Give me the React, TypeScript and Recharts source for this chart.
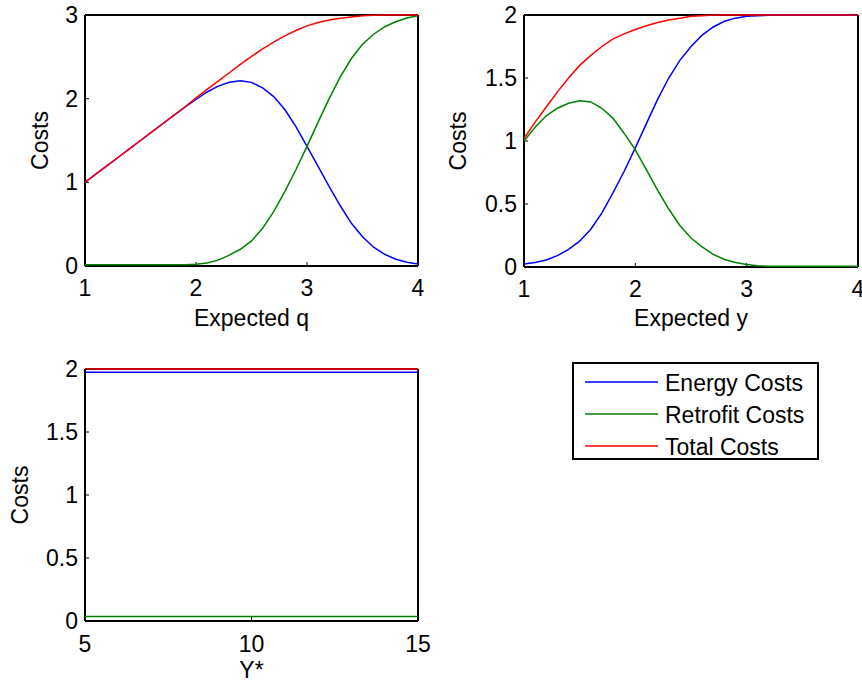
import React from 'react';
import { LineChart, Line, XAxis, YAxis, Legend, Label } from 'recharts';

// ---------- Panel 1: Expected q ----------
const qValues = [1.0, 1.1, 1.2, 1.3, 1.4, 1.5, 1.6, 1.7, 1.8, 1.9, 2.0, 2.1, 2.2, 2.3, 2.4, 2.5, 2.6, 2.7, 2.8, 2.9, 3.0, 3.1, 3.2, 3.3, 3.4, 3.5, 3.6, 3.7, 3.8, 3.9, 4.0];
const energyQ = [1.0, 1.1, 1.2, 1.3, 1.4, 1.5, 1.6, 1.7, 1.8, 1.9, 1.99, 2.08, 2.15, 2.195, 2.215, 2.195, 2.13, 2.025, 1.87, 1.665, 1.43, 1.19, 0.95, 0.72, 0.51, 0.35, 0.225, 0.14, 0.08, 0.045, 0.025];
const retrofitQ = [0.015, 0.015, 0.015, 0.015, 0.015, 0.015, 0.015, 0.015, 0.015, 0.015, 0.02, 0.035, 0.07, 0.13, 0.2, 0.3, 0.45, 0.65, 0.89, 1.15, 1.43, 1.72, 2.0, 2.26, 2.48, 2.65, 2.77, 2.86, 2.92, 2.965, 2.99];
const totalQ = [1.0, 1.1, 1.2, 1.3, 1.4, 1.5, 1.6, 1.7, 1.8, 1.9, 2.01, 2.11, 2.21, 2.31, 2.41, 2.505, 2.595, 2.675, 2.75, 2.815, 2.87, 2.91, 2.94, 2.96, 2.977, 2.99, 2.997, 3.0, 3.0, 3.0, 3.0];

// ---------- Panel 2: Expected y ----------
const yValues = [1.0, 1.1, 1.2, 1.3, 1.4, 1.5, 1.6, 1.7, 1.8, 1.9, 2.0, 2.1, 2.2, 2.3, 2.4, 2.5, 2.6, 2.7, 2.8, 2.9, 3.0, 3.1, 3.2, 3.3, 3.4, 3.5, 3.6, 3.7, 3.8, 3.9, 4.0];
const energyY = [0.024, 0.035, 0.055, 0.09, 0.14, 0.205, 0.3, 0.43, 0.59, 0.76, 0.945, 1.14, 1.33, 1.5, 1.64, 1.75, 1.84, 1.905, 1.95, 1.975, 1.99, 1.995, 1.998, 1.998, 1.998, 1.998, 1.998, 1.998, 1.998, 1.998, 1.998];
const retrofitY = [1.0, 1.11, 1.2, 1.26, 1.3, 1.32, 1.31, 1.26, 1.18, 1.06, 0.93, 0.77, 0.61, 0.46, 0.33, 0.23, 0.16, 0.1, 0.06, 0.035, 0.02, 0.01, 0.006, 0.006, 0.006, 0.006, 0.006, 0.006, 0.006, 0.006, 0.006];
const totalY = [1.02, 1.15, 1.27, 1.39, 1.5, 1.6, 1.68, 1.75, 1.81, 1.85, 1.885, 1.915, 1.94, 1.96, 1.975, 1.99, 1.995, 2.0, 2.0, 2.0, 2.0, 2.0, 2.0, 2.0, 2.0, 2.0, 2.0, 2.0, 2.0, 2.0, 2.0];

// ---------- Panel 3: Y* ----------
const yStarValues = [5, 6, 7, 8, 9, 10, 11, 12, 13, 14, 15];
const energyStar = [1.975, 1.975, 1.975, 1.975, 1.975, 1.975, 1.975, 1.975, 1.975, 1.975, 1.975];
const retrofitStar = [0.035, 0.035, 0.035, 0.035, 0.035, 0.035, 0.035, 0.035, 0.035, 0.035, 0.035];
const totalStar = [2.0, 2.0, 2.0, 2.0, 2.0, 2.0, 2.0, 2.0, 2.0, 2.0, 2.0];

// ---------- ticks & labels ----------
const ticksX12 = [1, 2, 3, 4];
const ticksY1 = [0, 1, 2, 3];
const ticksY2 = [0, 0.5, 1, 1.5, 2];
const ticksX3 = [5, 10, 15];
const ticksY3 = [0, 0.5, 1, 1.5, 2];
const seriesNames = ['Energy Costs', 'Retrofit Costs', 'Total Costs'];
const seriesColors = ['#0000ff', '#008000', '#ff0000'];

const build = (xs: number[], a: number[], b: number[], c: number[]) =>
  xs.map((x, i) => ({ x, energy: a[i], retrofit: b[i], total: c[i] }));

const dataQ = build(qValues, energyQ, retrofitQ, totalQ);
const dataY = build(yValues, energyY, retrofitY, totalY);
const dataStar = build(yStarValues, energyStar, retrofitStar, totalStar);

const FONT = 'Arial, "Liberation Sans", sans-serif';
const FS = 23;
const axisLine = { stroke: '#000', strokeWidth: 2 };
const tickLine = { stroke: '#000', strokeWidth: 1 };
const tickStyle = { fill: '#000', fontSize: FS, fontFamily: FONT };

const series = () =>
  ['energy', 'retrofit', 'total'].map((k, i) => (
    <Line
      key={k}
      xAxisId="b"
      yAxisId="l"
      type="linear"
      dataKey={k}
      name={seriesNames[i]}
      stroke={seriesColors[i]}
      strokeWidth={1.5}
      dot={false}
      activeDot={false}
      isAnimationActive={false}
    />
  ));

const LEG_W = 247;
const LEG_H = 98;
const LEG_ROW = 32;
const renderLegend = (props: any) => {
  const items = (props && props.payload) || [];
  return (
    <svg width={LEG_W} height={LEG_H} style={{ display: 'block' }}>
      <rect x={1} y={1} width={LEG_W - 2} height={LEG_H - 2} fill="#fff" stroke="#000" strokeWidth={2} />
      {items.map((it: any, i: number) => (
        <g key={i}>
          <line x1={13} x2={86} y1={20 + LEG_ROW * i} y2={20 + LEG_ROW * i} stroke={it.color} strokeWidth={1.5} />
          <text x={93} y={28.5 + LEG_ROW * i} fontSize={FS} fill="#000" fontFamily={FONT}>
            {it.value}
          </text>
        </g>
      ))}
    </svg>
  );
};

type PanelProps = {
  data: any[];
  width: number;
  height: number;
  margin: { top: number; right: number; bottom: number; left: number };
  xDomain: [number, number];
  xTicks: number[];
  yDomain: [number, number];
  yTicks: number[];
  xHeight: number;
  yWidth: number;
  xTickMargin: number;
  xLabel: string;
  xLabelOffset: number;
  yLabelOffset: number;
  legend?: boolean;
};

// Axes of one panel; "show" draws the box, ticks and labels, otherwise the axes only reserve the same space.
const axes = (p: PanelProps, show: boolean) => [
  <XAxis
    key="xb"
    xAxisId="b"
    dataKey="x"
    type="number"
    domain={p.xDomain}
    ticks={p.xTicks}
    height={p.xHeight}
    tickSize={-4}
    tickMargin={p.xTickMargin}
    axisLine={show ? axisLine : false}
    tickLine={show ? tickLine : false}
    tick={show ? tickStyle : false}
    interval={0}
  >
    {show ? (
      <Label value={p.xLabel} position="insideBottom" offset={p.xLabelOffset} fill="#000" fontSize={FS} fontFamily={FONT} />
    ) : null}
  </XAxis>,
  <XAxis
    key="xt"
    xAxisId="t"
    orientation="top"
    dataKey="x"
    type="number"
    domain={p.xDomain}
    ticks={p.xTicks}
    height={1}
    tickSize={-4}
    axisLine={show ? axisLine : false}
    tickLine={show ? tickLine : false}
    tick={false}
    interval={0}
  />,
  <YAxis
    key="yl"
    yAxisId="l"
    dataKey="total"
    type="number"
    domain={p.yDomain}
    ticks={p.yTicks}
    width={p.yWidth}
    tickSize={-4}
    tickMargin={11}
    axisLine={show ? axisLine : false}
    tickLine={show ? tickLine : false}
    tick={show ? tickStyle : false}
    interval={0}
  >
    {show ? (
      <Label
        value="Costs"
        angle={-90}
        position="insideLeft"
        offset={p.yLabelOffset}
        fill="#000"
        fontSize={FS}
        fontFamily={FONT}
        style={{ textAnchor: 'middle' }}
      />
    ) : null}
  </YAxis>,
  <YAxis
    key="yr"
    yAxisId="r"
    orientation="right"
    dataKey="total"
    type="number"
    domain={p.yDomain}
    ticks={p.yTicks}
    width={1}
    tickSize={-4}
    axisLine={show ? axisLine : false}
    tickLine={show ? tickLine : false}
    tick={false}
    interval={0}
  />,
];

const Panel = (p: PanelProps) => (
  <div style={{ position: 'relative', width: p.width, height: p.height }}>
    <div style={{ position: 'absolute', left: 0, top: 0 }}>
      <LineChart width={p.width} height={p.height} data={p.data} margin={p.margin}>
        {axes(p, true)}
      </LineChart>
    </div>
    <div style={{ position: 'absolute', left: 0, top: 0 }}>
      <LineChart width={p.width} height={p.height} data={p.data} margin={p.margin}>
        {axes(p, false)}
        {series()}
        {p.legend ? (
          <Legend
            layout="horizontal"
            verticalAlign="middle"
            align="center"
            wrapperStyle={{ left: 572, top: 22, width: LEG_W, height: LEG_H }}
            content={renderLegend}
          />
        ) : null}
      </LineChart>
    </div>
  </div>
);

export default function App() {
  return (
    <div
      style={{
        position: 'absolute',
        left: 0,
        top: 0,
        width: 862,
        height: 683,
        background: '#fff',
        fontFamily: FONT,
        overflow: 'hidden',
      }}
    >
      <div style={{ position: 'absolute', left: 0, top: 0 }}>
        <Panel
          data={dataQ}
          width={430}
          height={340}
          margin={{ top: 14, right: 11, bottom: 0, left: 0 }}
          xDomain={[1, 4]}
          xTicks={ticksX12}
          yDomain={[0, 3]}
          yTicks={ticksY1}
          xHeight={74}
          yWidth={85}
          xTickMargin={18}
          xLabel="Expected q"
          xLabelOffset={14}
          yLabelOffset={39.5}
        />
      </div>
      <div style={{ position: 'absolute', left: 430, top: 0 }}>
        <Panel
          data={dataY}
          width={432}
          height={340}
          margin={{ top: 14, right: 3, bottom: 0, left: 0 }}
          xDomain={[1, 4]}
          xTicks={ticksX12}
          yDomain={[0, 2]}
          yTicks={ticksY2}
          xHeight={73}
          yWidth={94}
          xTickMargin={18}
          xLabel="Expected y"
          xLabelOffset={14}
          yLabelOffset={28.3}
        />
      </div>
      <div style={{ position: 'absolute', left: 0, top: 340 }}>
        <Panel
          data={dataStar}
          width={862}
          height={343}
          margin={{ top: 28, right: 443, bottom: 0, left: 0 }}
          xDomain={[5, 15]}
          xTicks={ticksX3}
          yDomain={[0, 2]}
          yTicks={ticksY3}
          xHeight={62}
          yWidth={85}
          xTickMargin={19}
          xLabel="Y*"
          xLabelOffset={5}
          yLabelOffset={19.7}
          legend
        />
      </div>
    </div>
  );
}
